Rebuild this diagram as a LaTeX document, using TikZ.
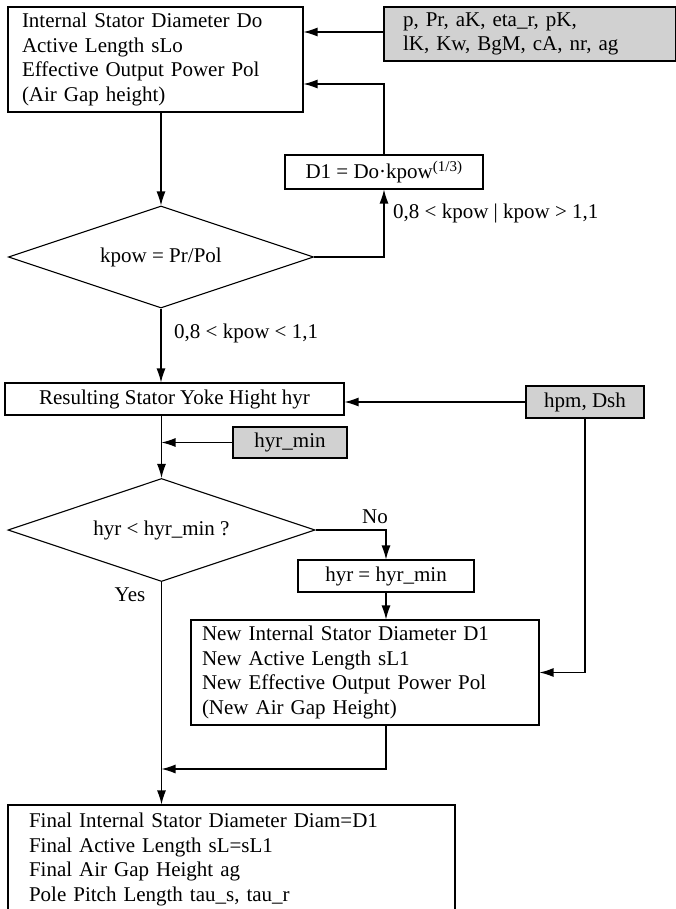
\documentclass[tikz,border=0pt]{standalone}
\usepackage{fontspec}
\setmainfont{Liberation Serif}
\usepackage{tikz}
\usetikzlibrary{arrows.meta,shapes.geometric,positioning}
\usetikzlibrary{calc}

\definecolor{inputgray}{gray}{0.82}

\tikzset{
  base/.style = {font=\fontsize{21}{24.5}\selectfont, line width=1.1pt},
  process/.style = {base, draw, rectangle, inner ysep=0pt},
  listbox/.style = {process, align=left},
  inputbox/.style = {process, fill=inputgray},
  decision/.style = {base, draw, diamond, aspect=3, inner sep=0pt,
                     minimum width=305pt, minimum height=102pt},
  flow/.style = {line width=1.2pt, -{Latex[length=14pt,width=9pt]}},
  lbl/.style = {font=\fontsize{21}{24.5}\selectfont, inner sep=0pt}
}

\begin{document}
\begin{tikzpicture}[x=1pt,y=-1pt]
          \useasboundingbox (0,0) rectangle (675,909);

          \node[listbox, text width=267pt, inner xsep=14pt, minimum height=105pt] (start) at (155.5,59.5)
            {Internal Stator Diameter Do\\ Active Length sLo\\ Effective Output Power Pol\\ (Air Gap height)};
          \node[inputbox, align=left, text width=254pt, inner xsep=19pt, minimum height=54pt] (params) at (530,34)
            {p, Pr, aK, eta\_r, pK,\\ lK, Kw, BgM, cA, nr, ag};
          \node[process, minimum width=198pt, minimum height=34pt] (dnew) at (384,172)
            {D1 = Do\textperiodcentered kpow\textsuperscript{\fontsize{15}{15}\selectfont(1/3)}};
          \node[decision] (kpow) at (161,257) {kpow = Pr/Pol};
          \node[lbl, anchor=west] (outside) at (393,213) {0,8 < kpow | kpow > 1,1};
          \node[lbl, anchor=west] (inside) at (174,333) {0,8 < kpow < 1,1};

          \node[process, minimum width=339pt, minimum height=32pt] (yoke) at (174.5,399)
            {Resulting Stator Yoke Hight hyr};
          \node[inputbox, minimum width=118pt, minimum height=32pt] (hpm) at (585,402) {hpm, Dsh};
          \node[inputbox, minimum width=114pt, minimum height=31pt] (hyrmin) at (290,442.5) {hyr\_min};
          \node[decision, minimum width=307pt, minimum height=103pt] (check) at (161.5,530) {hyr < hyr\_min ?};
          \node[lbl] (no) at (375,517) {No};
          \node[lbl] (yes) at (130,595) {Yes};
          \node[process, minimum width=176pt, minimum height=32pt] (clamp) at (386,576) {hyr = hyr\_min};

          \node[listbox, text width=326pt, inner xsep=11pt, minimum height=105pt] (update) at (365,672.5)
            {New Internal Stator Diameter D1\\ New Active Length sL1\\ New Effective Output Power Pol\\ (New Air Gap Height)};
          \node[listbox, text width=405pt, inner xsep=21pt, minimum height=109pt] (final) at (231.5,859.5)
            {Final Internal Stator Diameter Diam=D1\\ Final Active Length sL=sL1\\ Final Air Gap Height ag\\ Pole Pitch Length tau\_s, tau\_r};
          \coordinate (merge) at (161.5,769);

          \draw[flow] ([yshift=2pt]params.west) -- ([yshift=2pt]params.west -| start.east);
          \draw[flow] (dnew.north) |- ([yshift=-24.5pt]start.east);
          \draw[flow] (kpow.north |- start.south) -- (kpow.north);
          \draw[flow] (kpow.east) -| (dnew.south);
          \draw[flow] (kpow.south) -- (kpow.south |- yoke.north);
          \draw[flow] (hpm.west) -- (hpm.west -| yoke.east);
          \draw[flow] (check.north |- yoke.south) -- (check.north);
          \draw[flow] (hyrmin.west) -- (hyrmin.west -| check.north);
          \draw[flow] (check.east) -| (clamp.north);
          \draw[flow] (clamp.south) -- (clamp.south |- update.north);
          \draw[flow] (hpm.south) |- (update.east);
          \draw[flow] (clamp.south |- update.south) |- (merge);
          \draw[flow] (check.south) -- (check.south |- final.north);
        \end{tikzpicture}
\end{document}
